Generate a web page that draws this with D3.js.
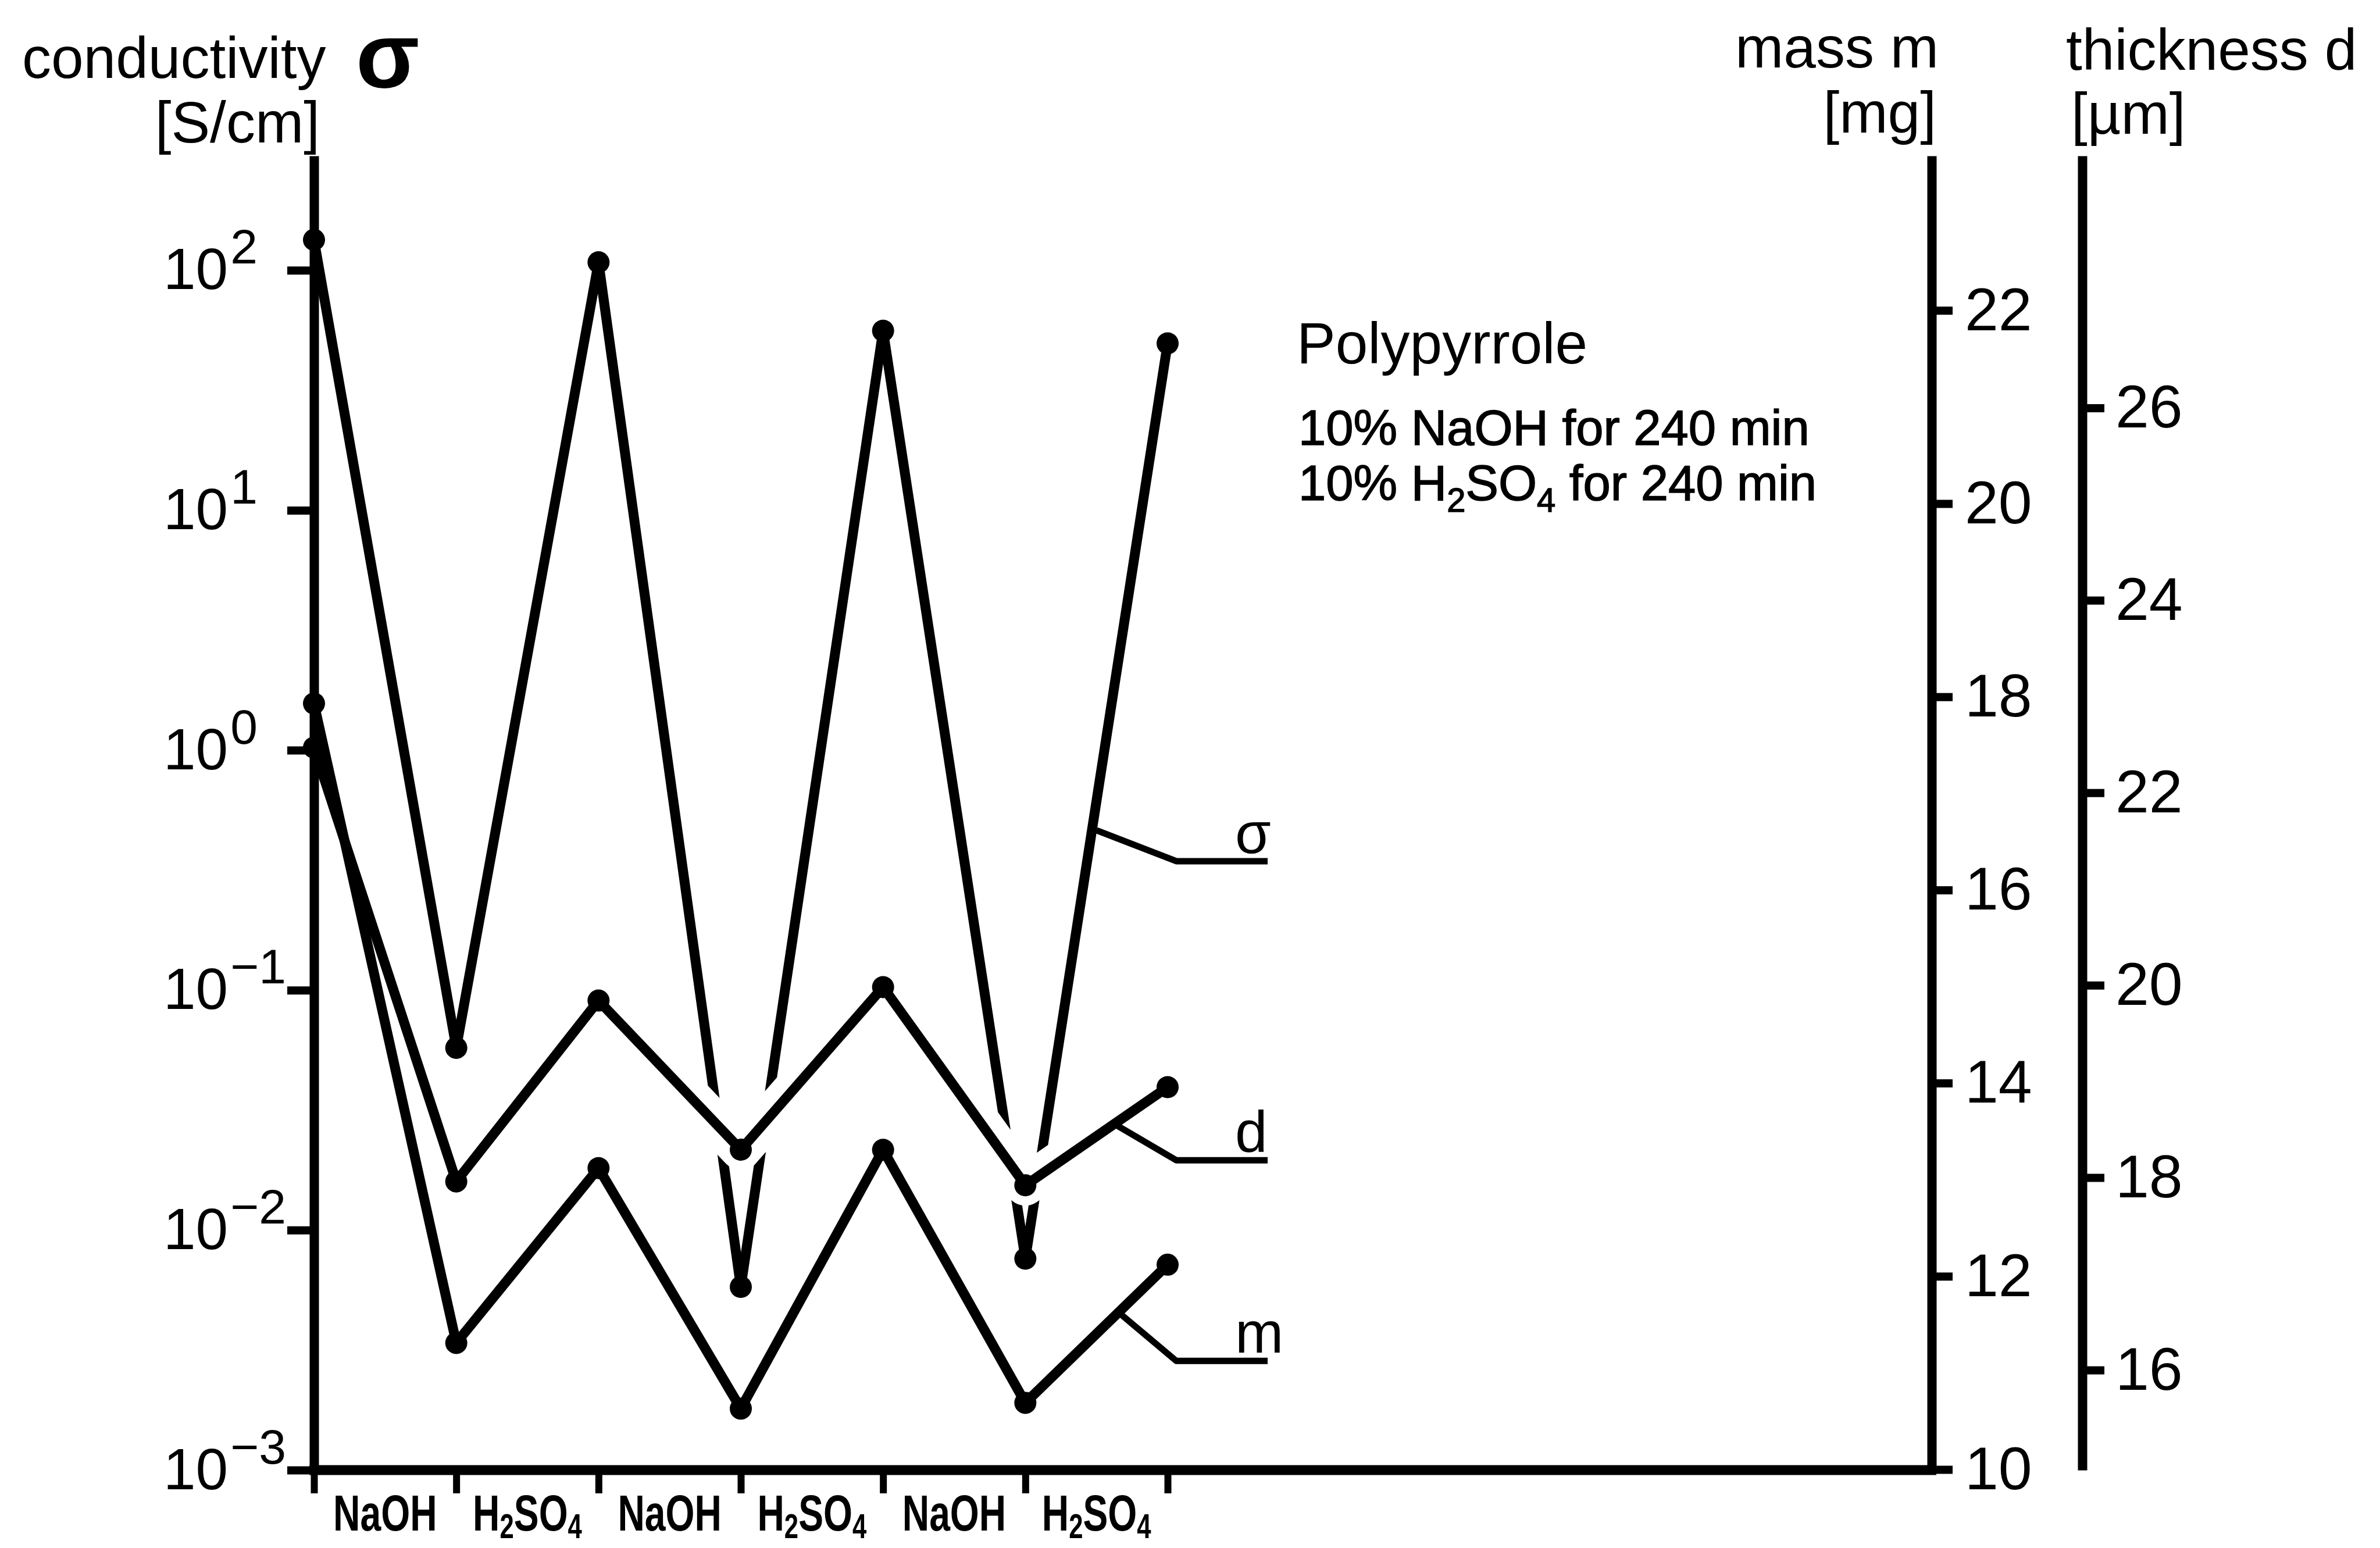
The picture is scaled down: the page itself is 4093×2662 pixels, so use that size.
<!DOCTYPE html>
<html>
<head>
<meta charset="utf-8">
<title>Polypyrrole - conductivity, mass and thickness</title>
<style>
  body { margin: 0; background: #fff; }
  svg  { display: block; }
  text { font-family: "Liberation Sans", Arial, Helvetica, sans-serif; fill: #000; }
</style>
</head>
<body>
<script src="https://cdn.jsdelivr.net/npm/d3@7/dist/d3.min.js"></script>
<script>

// measurement after each treatment step (0 = as prepared)
var steps = [0, 1, 2, 3, 4, 5, 6];
var treatments = ["NaOH", "H2SO4", "NaOH", "H2SO4", "NaOH", "H2SO4"];

var conductivity = [134, 0.0575, 108, 0.0058, 56, 0.0076, 49.6];   // S/cm
var thickness    = [22.47, 17.96, 19.84, 18.29, 19.98, 17.92, 18.94]; // µm
var mass         = [17.93, 11.31, 13.12, 10.63, 13.31, 10.69, 12.12]; // mg

var sigmaTicks = [1e-3, 1e-2, 1e-1, 1e0, 1e1, 1e2];
var massTicks  = [10, 12, 14, 16, 18, 20, 22];
var thickTicks = [16, 18, 20, 22, 24, 26];

var W = 4093, H = 2662;

var svg = d3.select("body").append("svg")
  .attr("width", W)
  .attr("height", H);

svg.append("rect").attr("width", W).attr("height", H).attr("fill", "#fff");

// scales
var x = d3.scaleLinear().domain([0, 6]).range([540, 2008]);
var ySigma = d3.scaleLog().domain([1e-3, 300]).range([2528, 268]);
var yMass  = d3.scaleLinear().domain([10, 23.6]).range([2527, 268]);
var yThick = d3.scaleLinear().domain([14.96, 28.62]).range([2528, 268]);

var leftX = 540, massX = 3322, thickX = 3581, baseY = 2528;

// subscript digits that follow a letter (chemical formulas)
function appendFormula(text, str, size, dropRatio) {
  var re = /([A-Za-z])(\d+)/g, segs = [], last = 0, m;
  while ((m = re.exec(str))) {
    segs.push([str.slice(last, m.index + 1), false]);
    segs.push([m[2], true]);
    last = m.index + m[0].length;
  }
  segs.push([str.slice(last), false]);
  var shift = 0, drop = size * (dropRatio || 0.24);
  segs.forEach(function (s) {
    if (!s[0]) return;
    var t = text.append("tspan").text(s[0]);
    if (s[1]) {
      t.attr("font-size", size * 0.68).attr("dy", drop - shift);
      shift = drop;
    } else {
      t.attr("font-size", size).attr("dy", -shift);
      shift = 0;
    }
  });
}

// series
var line = d3.line().x(function (d, i) { return x(steps[i]); });

var series = [
  { key: "sigma", values: conductivity, y: ySigma, label: "\u03c3", frac: 0.468, knee: 53 },
  { key: "d", values: thickness, y: yThick, label: "d", frac: 0.61, knee: 60 },
  { key: "m", values: mass, y: yMass, label: "m", frac: 0.64, knee: 80 }
];

var plot = svg.append("g");

series.forEach(function (s) {
  var path = line.y(function (d) { return s.y(d); });
  if (s.key === "d") {
    // the sigma line is interrupted where it passes the thickness curve
    plot.append("path")
      .attr("d", path(s.values))
      .attr("fill", "none")
      .attr("stroke", "#fff")
      .attr("stroke-width", 70)
      .attr("stroke-linejoin", "round")
      .attr("stroke-linecap", "round");
  }
  plot.append("path")
    .attr("d", path(s.values))
    .attr("fill", "none")
    .attr("stroke", "#000")
    .attr("stroke-width", 17)
    .attr("stroke-linejoin", "round")
    .attr("stroke-linecap", "round");
});

// axes
function styleAxis(g, size) {
  g.select(".domain").attr("stroke-width", 16);
  g.selectAll(".tick line").attr("stroke-width", 14);
  g.selectAll("text").attr("font-size", size).attr("font-family", null).attr("fill", "#000");
  g.attr("font-family", null);
}

var leftAxis = svg.append("g")
  .attr("transform", "translate(" + leftX + ",0)")
  .call(d3.axisLeft(ySigma).tickValues(sigmaTicks).tickSize(46).tickSizeOuter(0)
    .tickFormat(function () { return ""; }));
styleAxis(leftAxis, 100);
leftAxis.selectAll(".tick text")
  .attr("x", -259)
  .attr("text-anchor", "start")
  .each(function (d) {
    var e = Math.round(Math.log10(d));
    var t = d3.select(this);
    t.append("tspan").attr("font-size", 100).text("10");
    t.append("tspan").attr("font-size", 84).attr("dx", 4).attr("dy", -44)
      .text(e < 0 ? "\u2212" + (-e) : String(e));
  });

var massAxis = svg.append("g")
  .attr("transform", "translate(" + massX + ",0)")
  .call(d3.axisRight(yMass).tickValues(massTicks).tickSize(36).tickPadding(21).tickSizeOuter(0));
styleAxis(massAxis, 104);

var thickAxis = svg.append("g")
  .attr("transform", "translate(" + thickX + ",0)")
  .call(d3.axisRight(yThick).tickValues(thickTicks).tickSize(38).tickPadding(19).tickSizeOuter(0));
styleAxis(thickAxis, 104);

var bottomAxis = svg.append("g")
  .attr("transform", "translate(0," + baseY + ")")
  .call(d3.axisBottom(x).tickValues(steps).tickSize(40).tickFormat(function () { return ""; }));
bottomAxis.select(".domain").remove();
bottomAxis.selectAll(".tick line").attr("stroke-width", 12);

svg.append("line")
  .attr("x1", leftX - 8).attr("x2", massX + 8)
  .attr("y1", baseY).attr("y2", baseY)
  .attr("stroke", "#000").attr("stroke-width", 17);

// treatment labels between the measurement ticks
treatments.forEach(function (t, i) {
  var g = svg.append("g")
    .attr("transform", "translate(" + x(i + 0.5) + ",2632) scale(0.73,1)");
  var txt = g.append("text").attr("text-anchor", "middle").attr("font-weight", "bold");
  appendFormula(txt, t, 88, 0.15);
});

// dots on top
series.forEach(function (s) {
  plot.selectAll(".dot-" + s.key)
    .data(s.values)
    .enter().append("circle")
      .attr("cx", function (d, i) { return x(steps[i]); })
      .attr("cy", function (d) { return s.y(d); })
      .attr("r", 19)
      .attr("fill", "#000");
});

// leader lines and curve labels
series.forEach(function (s) {
  var x5 = x(steps[5]), x6 = x(steps[6]);
  var y5 = s.y(s.values[5]), y6 = s.y(s.values[6]);
  var ax = x5 + s.frac * (x6 - x5) + 8;
  var ay = y5 + s.frac * (y6 - y5);
  var ky = ay + s.knee;
  svg.append("path")
    .attr("d", "M" + ax + "," + ay + "L2023," + ky + "L2180," + ky)
    .attr("fill", "none")
    .attr("stroke", "#000")
    .attr("stroke-width", 11)
    .attr("stroke-linejoin", "round");
  svg.append("text")
    .attr("x", 2124)
    .attr("y", ky - 14)
    .attr("font-size", 100)
    .text(s.label);
});

// axis titles
svg.append("text").attr("x", 38).attr("y", 134).attr("font-size", 100).text("conductivity");
svg.append("text").attr("x", 612).attr("y", 150).attr("font-size", 160).attr("font-weight", "bold").text("\u03c3");
svg.append("text").attr("x", 550).attr("y", 245).attr("font-size", 100).attr("text-anchor", "end").text("[S/cm]");

svg.append("text").attr("x", 3334).attr("y", 116).attr("font-size", 100).attr("text-anchor", "end").text("mass m");
svg.append("text").attr("x", 3330).attr("y", 228).attr("font-size", 100).attr("text-anchor", "end").text("[mg]");

svg.append("text").attr("x", 3553).attr("y", 120).attr("font-size", 100).text("thickness d");
svg.append("text").attr("x", 3562).attr("y", 230).attr("font-size", 100).text("[\u00b5m]");

// annotation
svg.append("text").attr("x", 2230).attr("y", 625).attr("font-size", 100).text("Polypyrrole");
svg.append("text").attr("x", 2233).attr("y", 765).attr("font-size", 85)
  .attr("stroke", "#000").attr("stroke-width", 1.5)
  .text("10% NaOH for 240 min");
var cond2 = svg.append("text").attr("x", 2233).attr("y", 860)
  .attr("stroke", "#000").attr("stroke-width", 1.5);
appendFormula(cond2, "10% H2SO4 for 240 min", 85);

</script>
</body>
</html>
